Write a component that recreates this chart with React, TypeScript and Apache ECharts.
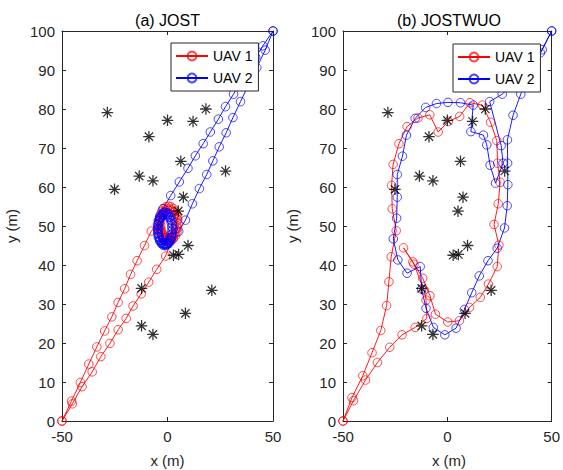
import React, { useEffect, useRef } from "react";
import * as echarts from "echarts";

type P = [number, number];

const FONT = "'Liberation Sans', Arial, Helvetica, sans-serif";
const AXIS_COLOR = "#262626";
const RED = "#ff0000";
const BLUE = "#0000ff";
const RED_MARK = "rgba(255,0,0,0.72)";
const BLUE_MARK = "rgba(0,0,255,0.72)";

const panelTitles = ["(a) JOST", "(b) JOSTWUO"];
const seriesNames = ["UAV 1", "UAV 2"];
const xTickRange = { min: -50, max: 50, interval: 50 };
const yTickRange = { min: 0, max: 100, interval: 10 };

// Targets / obstacles (black asterisks), same in both panels
const obstacleX = [-28.5, 0.0, 12.1, 18.2, -8.8, 6.3, 27.5, -13.4, -6.9, -25.1, 7.5, 5.1, 9.7, 2.8, 5.3, -12.3, 21.0, 8.5, -12.3, -6.9];
const obstacleY = [79.1, 77.1, 76.8, 80.0, 72.9, 66.6, 64.1, 62.8, 61.6, 59.4, 57.4, 53.8, 45.0, 42.5, 42.7, 34.0, 33.5, 27.6, 24.4, 22.2];

// ---------- (a) JOST ----------
const jostUav1Out: P[] = [
  [-50, 0], [-45.5, 5.1], [-41.3, 9.9], [-37.3, 14.6], [-33.5, 19.0], [-29.8, 23.1], [-26.4, 26.7],
  [-23.4, 30.4], [-20.3, 33.9], [-17.5, 37.6], [-14.4, 41.1], [-10.9, 45.0], [-7.7, 48.7],
];
const jostUav1Orbit: P[] = [
  [-4.0, 50.6], [-3.85, 49.44], [-3.4, 48.35], [-2.68, 47.42], [-1.75, 46.7], [-0.66, 46.25], [0.5, 46.1], [1.66, 46.25],
  [2.75, 46.7], [3.68, 47.42], [4.4, 48.35], [4.85, 49.44], [5.0, 50.6], [4.85, 51.76], [4.4, 52.85], [3.68, 53.78],
  [2.75, 54.5], [1.66, 54.95], [0.5, 55.1], [-0.66, 54.95], [-1.75, 54.5], [-2.68, 53.78], [-3.4, 52.85], [-3.85, 51.76],
  [-3.27, 50.1], [-3.01, 49.14], [-2.51, 48.29], [-1.81, 47.59], [-0.96, 47.09], [0.0, 46.83], [1.0, 46.83], [1.96, 47.09],
  [2.81, 47.59], [3.51, 48.29], [4.01, 49.14], [4.27, 50.1], [4.27, 51.1], [4.01, 52.06], [3.51, 52.91], [2.81, 53.61],
  [1.96, 54.11], [1.0, 54.37], [0.0, 54.37], [-0.96, 54.11], [-1.81, 53.61], [-2.51, 52.91], [-3.01, 52.06], [-3.27, 51.1],
  [-3.56, 49.51], [-3.14, 48.5], [-2.47, 47.63], [-1.6, 46.96], [-0.59, 46.54], [0.5, 46.4], [1.59, 46.54], [2.6, 46.96],
];
const jostUav1Back: P[] = [
  [-0.9, 42.3], [-5.1, 38.9], [-8.9, 35.6], [-12.5, 32.6], [-16.3, 29.5], [-19.6, 26.3], [-23.4, 23.4],
  [-27.3, 19.9], [-31.6, 16.5], [-35.7, 12.6], [-40.5, 8.8], [-45.1, 4.4], [-50, 0],
];

const jostUav2Out: P[] = [
  [50, 100], [45.2, 96.2], [41.8, 93.3], [38.4, 90.1], [34.5, 86.9], [31.3, 83.8], [27.5, 80.6], [24.1, 77.4],
  [20.3, 74.1], [16.9, 71.1], [13.2, 68.0], [9.7, 64.8], [5.6, 61.3], [1.5, 57.8], [-2.2, 54.4],
];
const jostUav2Orbit: P[] = [
  [-3.0, 52.97], [-3.77, 52.29], [-4.35, 51.4], [-4.72, 50.36], [-4.85, 49.25], [-4.72, 48.14], [-4.35, 47.1], [-3.77, 46.21],
  [-3.0, 45.53], [-2.11, 45.1], [-1.15, 44.95], [-0.19, 45.1], [0.7, 45.53], [1.47, 46.21], [2.05, 47.1], [2.42, 48.14],
  [2.55, 49.25], [2.42, 50.36], [2.05, 51.4], [1.47, 52.29], [0.7, 52.97], [-0.19, 53.4], [-1.15, 53.55], [-2.11, 53.4],
  [-3.1, 52.26], [-3.69, 51.56], [-4.11, 50.71], [-4.32, 49.75], [-4.32, 48.75], [-4.11, 47.79], [-3.69, 46.94], [-3.1, 46.24],
  [-2.38, 45.74], [-1.57, 45.48], [-0.73, 45.48], [0.08, 45.74], [0.8, 46.24], [1.39, 46.94], [1.81, 47.79], [2.02, 48.75],
  [2.02, 49.75], [1.81, 50.71], [1.39, 51.56], [0.8, 52.26], [0.08, 52.76], [-0.73, 53.02], [-1.57, 53.02], [-2.38, 52.76],
  [-3.59, 52.11], [-4.14, 51.28], [-4.48, 50.3], [-4.6, 49.25], [-4.48, 48.2], [-4.14, 47.22], [-3.59, 46.39], [-2.88, 45.74],
  [-2.04, 45.34], [-1.15, 45.2], [-0.26, 45.34], [0.58, 45.74], [1.29, 46.39], [1.84, 47.22],
];
const jostUav2Back: P[] = [
  [5.3, 48.6], [8.5, 51.5], [11.8, 55.7], [15.1, 59.6], [18.6, 63.2], [21.5, 66.7], [24.5, 70.3], [27.8, 73.9],
  [31.0, 77.8], [34.6, 81.9], [38.4, 86.2], [42.3, 90.6], [46.3, 95.1], [50, 100],
];

// ---------- (b) JOSTWUO ----------
const wuoUav1Path: P[] = [
  [-50, 0], [-45.7, 6.0], [-40.5, 11.6], [-36.1, 17.5], [-31.9, 23.2], [-29.1, 29.6], [-28.0, 35.7], [-26.9, 42.1],
  [-24.5, 48.8], [-26.4, 54.4], [-26.7, 60.4], [-26.0, 65.8], [-23.2, 71.1], [-19.3, 75.5], [-14.1, 77.7], [-8.4, 78.5],
  [-4.4, 74.1], [0.5, 76.8], [5.9, 78.1], [10.8, 81.6], [16.8, 81.0], [20.7, 76.6], [23.7, 71.9], [24.1, 66.1],
  [25.3, 61.2], [24.4, 55.7], [22.4, 50.4], [24.7, 45.1], [23.9, 39.6], [19.7, 35.1], [15.8, 31.7], [10.6, 29.1],
  [5.8, 25.7], [0.2, 25.4], [-5.7, 27.4], [-8.3, 32.1], [-11.8, 36.6], [-16.5, 40.8], [-21.0, 44.4], [-16.0, 40.2],
  [-11.1, 33.6], [-10.2, 31.0], [-9.8, 26.3], [-15.4, 24.0], [-21.7, 22.1], [-27.6, 18.9], [-33.5, 15.0], [-39.2, 10.5],
  [-45.0, 5.2], [-50, 0],
];
const wuoUav2Path: P[] = [
  [50, 100], [45.5, 95.2], [40.0, 90.2], [35.2, 83.8], [31.5, 78.4], [28.8, 72.1], [28.9, 66.1], [29.0, 60.6],
  [28.7, 55.2], [27.4, 49.5], [23.9, 44.3], [19.5, 41.1], [15.3, 37.2], [11.7, 32.9], [8.2, 28.6], [4.2, 23.8],
  [-1.2, 22.1], [-6.7, 24.0], [-10.2, 28.9], [-12.3, 33.8], [-13.0, 39.6], [-19.3, 37.9], [-23.7, 41.3], [-25.9, 46.7],
  [-24.3, 52.0], [-24.0, 57.4], [-24.0, 63.2], [-21.5, 67.9], [-19.6, 73.3], [-15.4, 77.6], [-10.4, 80.4], [-5.2, 81.4],
  [0.3, 81.7], [6.3, 81.6], [12.4, 81.0], [11.3, 74.2], [17.3, 73.3], [18.9, 70.8], [20.5, 65.6], [23.1, 61.0],
  [26.7, 66.1], [25.8, 70.6], [20.3, 81.9], [26.3, 83.8], [32.0, 86.6], [38.5, 89.8], [44.6, 94.4], [50, 100],
];

const STAR =
  "path://M0,8.9H20V11.1H0Z M8.9,0H11.1V20H8.9Z M2.0,3.6L3.6,2.0L18.0,16.4L16.4,18.0Z M16.4,2.0L18.0,3.6L3.6,18.0L2.0,16.4Z";

const grids = [
  { left: 62, top: 31, width: 211, height: 390 },
  { left: 343, top: 31, width: 212, height: 390 },
];
const legendPos = [
  { left: 171, top: 43 },
  { left: 453, top: 44 },
];

function pathSeries(name: string, color: string, markColor: string, data: P[], idx: number) {
  return {
    name,
    type: "line",
    xAxisIndex: idx * 2,
    yAxisIndex: idx * 2,
    data,
    symbol: "circle",
    symbolSize: 8.5,
    showSymbol: true,
    lineStyle: { color, width: 0.9 },
    itemStyle: { color: "rgba(0,0,0,0)", borderColor: markColor, borderWidth: 1 },
    emphasis: { disabled: true },
    silent: true,
    z: 2,
  };
}

function buildOption() {
  const xAxes: any[] = [];
  const yAxes: any[] = [];
  grids.forEach((_, i) => {
    const common = {
      gridIndex: i,
      type: "value",
      splitLine: { show: false },
      axisLine: { show: true, onZero: false, lineStyle: { color: AXIS_COLOR, width: 1 } },
      axisTick: { show: true, inside: true, length: 4, lineStyle: { color: AXIS_COLOR } },
    };
    xAxes.push({
      ...common,
      ...xTickRange,
      position: "bottom",
      axisLabel: { show: true, margin: 8, color: AXIS_COLOR, fontSize: 15, fontFamily: FONT },
    });
    xAxes.push({ ...common, ...xTickRange, position: "top", axisLabel: { show: false } });
    yAxes.push({
      ...common,
      ...yTickRange,
      position: "left",
      axisLabel: { show: true, margin: 7, color: AXIS_COLOR, fontSize: 15, fontFamily: FONT },
    });
    yAxes.push({ ...common, ...yTickRange, position: "right", axisLabel: { show: false } });
  });

  const obstacles: P[] = obstacleX.map((x, i) => [x, obstacleY[i]]);
  const panels = [
    { uav1: [...jostUav1Out, ...jostUav1Orbit, ...jostUav1Back], uav2: [...jostUav2Out, ...jostUav2Orbit, ...jostUav2Back] },
    { uav1: wuoUav1Path, uav2: wuoUav2Path },
  ];
  const series: any[] = [];
  panels.forEach((p, i) => {
    series.push(pathSeries(seriesNames[0], RED, RED_MARK, p.uav1, i));
    series.push(pathSeries(seriesNames[1], BLUE, BLUE_MARK, p.uav2, i));
    series.push({
      name: "targets" + i,
      type: "scatter",
      xAxisIndex: i * 2,
      yAxisIndex: i * 2,
      data: obstacles,
      symbol: STAR,
      symbolSize: 11.5,
      itemStyle: { color: "#000" },
      silent: true,
      z: 3,
    });
  });

  const legends = legendPos.map((pos) => ({
    ...pos,
    data: seriesNames,
    orient: "vertical",
    itemWidth: 32,
    itemHeight: 11,
    itemGap: 8,
    padding: [6, 6, 6, 4],
    backgroundColor: "#fff",
    borderColor: AXIS_COLOR,
    borderWidth: 1,
    borderRadius: 0,
    selectedMode: false,
    textStyle: { fontSize: 14, color: "#000", fontFamily: FONT },
    z: 10,
  }));

  const graphics: any[] = [];
  grids.forEach((g, i) => {
    const cx = g.left + g.width / 2;
    graphics.push({
      type: "text",
      x: cx,
      y: 20,
      style: { text: panelTitles[i], align: "center", verticalAlign: "middle", font: `16px ${FONT}`, fill: "#000" },
    });
    graphics.push({
      type: "text",
      x: cx,
      y: 460,
      style: { text: "x (m)", align: "center", verticalAlign: "middle", font: `15px ${FONT}`, fill: AXIS_COLOR },
    });
    graphics.push({
      type: "text",
      x: g.left - 51,
      y: 226,
      rotation: Math.PI / 2,
      style: { text: "y (m)", align: "center", verticalAlign: "middle", font: `15px ${FONT}`, fill: AXIS_COLOR },
    });
  });

  return {
    animation: false,
    backgroundColor: "#fff",
    textStyle: { fontFamily: FONT },
    grid: grids.map((g) => ({ ...g, containLabel: false })),
    xAxis: xAxes,
    yAxis: yAxes,
    legend: legends,
    series,
    graphic: graphics,
  };
}

export default function App() {
  const ref = useRef<HTMLDivElement>(null);
  useEffect(() => {
    if (!ref.current) return;
    const chart = echarts.init(ref.current, undefined, { renderer: "svg" });
    chart.setOption(buildOption() as any);
    return () => chart.dispose();
  }, []);
  return (
    <div
      ref={ref}
      style={{ position: "fixed", left: 0, top: 0, width: 563, height: 470, background: "#fff" }}
    />
  );
}
